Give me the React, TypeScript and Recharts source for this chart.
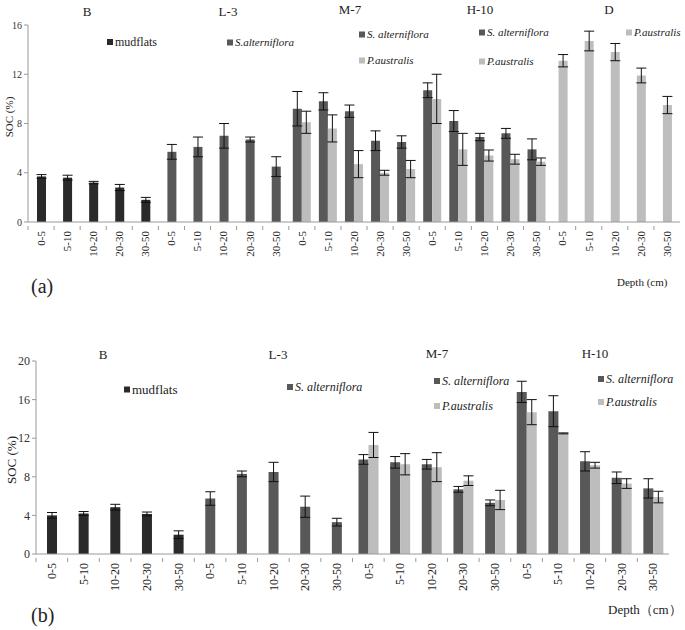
import { BarChart, Bar, XAxis, YAxis, ErrorBar, Cell } from 'recharts'

const depths = ['0-5', '5-10', '10-20', '20-30', '30-50']

// panel (a) SOC (%)
const aB = [3.7, 3.6, 3.2, 2.8, 1.8]
const aBErr = [0.15, 0.2, 0.1, 0.25, 0.2]
const aL3 = [5.7, 6.1, 7.0, 6.7, 4.5]
const aL3Err = [0.6, 0.8, 1.0, 0.2, 0.8]
const aM7S = [9.2, 9.8, 9.0, 6.6, 6.5]
const aM7SErr = [1.4, 0.7, 0.5, 0.8, 0.5]
const aM7P = [8.1, 7.6, 4.7, 4.0, 4.3]
const aM7PErr = [0.9, 1.1, 1.1, 0.2, 0.7]
const aH10S = [10.7, 8.2, 6.9, 7.2, 5.9]
const aH10SErr = [0.6, 0.85, 0.3, 0.4, 0.85]
const aH10P = [10.0, 5.9, 5.4, 5.1, 4.9]
const aH10PErr = [2.0, 1.3, 0.45, 0.4, 0.3]
const aD = [13.1, 14.7, 13.8, 11.9, 9.5]
const aDErr = [0.5, 0.8, 0.7, 0.6, 0.7]

// panel (b) SOC (%)
const bB = [4.0, 4.2, 4.85, 4.15, 2.0]
const bBErr = [0.3, 0.2, 0.3, 0.2, 0.4]
const bL3 = [5.75, 8.3, 8.5, 4.9, 3.3]
const bL3Err = [0.7, 0.3, 1.0, 1.1, 0.4]
const bM7S = [9.8, 9.5, 9.3, 6.7, 5.3]
const bM7SErr = [0.5, 0.6, 0.5, 0.3, 0.3]
const bM7P = [11.3, 9.3, 9.0, 7.6, 5.6]
const bM7PErr = [1.3, 1.1, 1.5, 0.5, 1.0]
const bH10S = [16.8, 14.8, 9.6, 7.9, 6.8]
const bH10SErr = [1.1, 1.6, 1.0, 0.6, 1.0]
const bH10P = [14.7, 12.5, 9.2, 7.3, 5.9]
const bH10PErr = [1.3, 0.05, 0.3, 0.5, 0.6]

const aTicks = [0, 4, 8, 12, 16]
const bTicks = [0, 4, 8, 12, 16, 20]

const MUD = '#2a2a2a'
const SALT = '#585858'
const PHRAG = '#bdbdbd'
const SERIF = "'Liberation Serif', 'Times New Roman', Tinos, 'DejaVu Serif', serif"

type Row = {
  key: string
  depth: string
  single?: number
  singleErr?: number
  fill?: string
  s?: number
  sErr?: number
  p?: number
  pErr?: number
}

const singleRows = (site: string, vals: number[], errs: number[], fill: string): Row[] =>
  depths.map((d, i) => ({ key: site + ' ' + d, depth: d, single: vals[i], singleErr: errs[i], fill }))

const pairRows = (site: string, s: number[], sErr: number[], p: number[], pErr: number[]): Row[] =>
  depths.map((d, i) => ({ key: site + ' ' + d, depth: d, s: s[i], sErr: sErr[i], p: p[i], pErr: pErr[i] }))

const rowsA: Row[] = [
  ...singleRows('B', aB, aBErr, MUD),
  ...singleRows('L-3', aL3, aL3Err, SALT),
  ...pairRows('M-7', aM7S, aM7SErr, aM7P, aM7PErr),
  ...pairRows('H-10', aH10S, aH10SErr, aH10P, aH10PErr),
  ...singleRows('D', aD, aDErr, PHRAG),
]

const rowsB: Row[] = [
  ...singleRows('B', bB, bBErr, MUD),
  ...singleRows('L-3', bL3, bL3Err, SALT),
  ...pairRows('M-7', bM7S, bM7SErr, bM7P, bM7PErr),
  ...pairRows('H-10', bH10S, bH10SErr, bH10P, bH10PErr),
]

// rotated depth label plus a small mark on the category boundary
function makeTick(step: number, fontSize: number) {
  return (props: any) => {
    const { x, y, payload } = props
    const depth = String(payload.value).split(' ').pop()
    const ty = y + 3
    return (
      <g>
        <line x1={x - step / 2} x2={x - step / 2} y1={y - 2} y2={y + 2} stroke="#999" />
        <text
          x={x}
          y={ty}
          transform={`rotate(-90 ${x} ${ty})`}
          textAnchor="end"
          dy={fontSize * 0.35}
          fontSize={fontSize}
          style={{ fontFamily: SERIF }}
          fill="#222"
        >
          {depth}
        </text>
      </g>
    )
  }
}

interface PanelProps {
  rows: Row[]
  width: number
  height: number
  margin: { top: number; right: number; bottom: number; left: number }
  yWidth: number
  yMax: number
  ticks: number[]
  barSize: number
  tickFont: number
  yFont: number
}

function Panel({ rows, width, height, margin, yWidth, yMax, ticks, barSize, tickFont, yFont }: PanelProps) {
  const step = (width - margin.left - margin.right - yWidth) / rows.length
  return (
    <BarChart width={width} height={height} data={rows} margin={margin} barGap={0}>
      <XAxis xAxisId="single" dataKey="key" hide />
      <XAxis
        xAxisId="pair"
        dataKey="key"
        interval={0}
        height={30}
        axisLine={{ stroke: '#999' }}
        tickLine={false}
        tickMargin={0}
        tick={makeTick(step, tickFont)}
      />
      <YAxis
        domain={[0, yMax]}
        ticks={ticks}
        width={yWidth}
        axisLine={{ stroke: '#999' }}
        tickLine={{ stroke: '#999' }}
        tickSize={4}
        tickMargin={2}
        tick={{ fontSize: yFont, fill: '#333', style: { fontFamily: SERIF } }}
      />
      <Bar xAxisId="single" dataKey="single" barSize={barSize} isAnimationActive={false}>
        {rows.map((r) => (
          <Cell key={r.key} fill={r.fill} />
        ))}
        <ErrorBar dataKey="singleErr" width={5} stroke="#111" strokeWidth={1} />
      </Bar>
      <Bar xAxisId="pair" dataKey="s" fill={SALT} barSize={barSize} isAnimationActive={false}>
        <ErrorBar dataKey="sErr" width={5} stroke="#111" strokeWidth={1} />
      </Bar>
      <Bar xAxisId="pair" dataKey="p" fill={PHRAG} barSize={barSize} isAnimationActive={false}>
        <ErrorBar dataKey="pErr" width={5} stroke="#111" strokeWidth={1} />
      </Bar>
    </BarChart>
  )
}

function Txt({ x, y, size, children, center, italic }: any) {
  return (
    <div
      style={{
        position: 'absolute',
        left: x,
        top: y,
        transform: center ? 'translate(-50%, -50%)' : 'translateY(-50%)',
        fontFamily: SERIF,
        fontSize: size,
        fontStyle: italic ? 'italic' : 'normal',
        color: '#222',
        whiteSpace: 'nowrap',
        lineHeight: 1,
      }}
    >
      {children}
    </div>
  )
}

function Key({ x, y, color, label, size, italic = true }: any) {
  return (
    <div
      style={{
        position: 'absolute',
        left: x,
        top: y,
        transform: 'translateY(-50%)',
        display: 'flex',
        alignItems: 'center',
        fontFamily: SERIF,
        fontSize: size,
        color: '#222',
        whiteSpace: 'nowrap',
        lineHeight: 1,
      }}
    >
      <span style={{ display: 'inline-block', width: 6, height: 6, background: color, marginRight: 2 }} />
      <span style={{ fontStyle: italic ? 'italic' : 'normal' }}>{label}</span>
    </div>
  )
}

function YLabel({ x, y, size }: any) {
  return (
    <div
      style={{
        position: 'absolute',
        left: x,
        top: y,
        transform: 'translate(-50%, -50%) rotate(-90deg)',
        fontFamily: SERIF,
        fontSize: size,
        color: '#222',
        whiteSpace: 'nowrap',
        lineHeight: 1,
      }}
    >
      SOC (%)
    </div>
  )
}

export default function App() {
  return (
    <div style={{ position: 'absolute', left: 0, top: 0, width: 685, height: 630, background: '#fff', overflow: 'hidden', fontFamily: SERIF }}>
      <div style={{ position: 'absolute', left: 0, top: 0 }}>
        <Panel
          rows={rowsA}
          width={685}
          height={300}
          margin={{ top: 25, right: 5, bottom: 48, left: 6 }}
          yWidth={22}
          yMax={16}
          ticks={aTicks}
          barSize={9}
          tickFont={11}
          yFont={10}
        />
      </div>
      <div style={{ position: 'absolute', left: 0, top: 330 }}>
        <Panel
          rows={rowsB}
          width={685}
          height={300}
          margin={{ top: 31, right: 16, bottom: 46, left: 10 }}
          yWidth={26}
          yMax={20}
          ticks={bTicks}
          barSize={10}
          tickFont={12}
          yFont={12}
        />
      </div>

      {/* panel (a) labels */}
      <Txt x={87} y={11} size={13} center>B</Txt>
      <Txt x={228} y={11} size={13} center>L-3</Txt>
      <Txt x={350} y={9} size={13} center>M-7</Txt>
      <Txt x={480} y={9} size={13} center>H-10</Txt>
      <Txt x={609} y={9} size={13} center>D</Txt>
      <Key x={107} y={42} color={MUD} label="mudflats" size={12} italic={false} />
      <Key x={227} y={42} color={SALT} label="S.alterniflora" size={11} />
      <Key x={359} y={34} color={SALT} label="S. alterniflora" size={11} />
      <Key x={359} y={60} color={PHRAG} label="P.australis" size={11} />
      <Key x={479} y={32} color={SALT} label="S. alterniflora" size={11} />
      <Key x={479} y={61} color={PHRAG} label="P.australis" size={11} />
      <Key x={626} y={32} color={PHRAG} label="P.australis" size={11} />
      <YLabel x={9} y={117} size={11} />
      <Txt x={617} y={282} size={11}>Depth (cm)</Txt>
      <Txt x={31} y={286} size={20}>(a)</Txt>

      {/* panel (b) labels */}
      <Txt x={103} y={354} size={13} center>B</Txt>
      <Txt x={278} y={354} size={13} center>L-3</Txt>
      <Txt x={437} y={353} size={13} center>M-7</Txt>
      <Txt x={595} y={353} size={13} center>H-10</Txt>
      <Key x={124} y={389} color={MUD} label="mudflats" size={13} italic={false} />
      <Key x={287} y={387} color={SALT} label="S. alterniflora" size={12} />
      <Key x={434} y={381} color={SALT} label="S. alterniflora" size={12} />
      <Key x={434} y={406} color={PHRAG} label="P.australis" size={12} />
      <Key x={598} y={379} color={SALT} label="S. alterniflora" size={12} />
      <Key x={598} y={402} color={PHRAG} label="P.australis" size={12} />
      <YLabel x={11} y={460} size={13} />
      <Txt x={608} y={609} size={13}>Depth（cm）</Txt>
      <Txt x={31} y={615} size={20}>(b)</Txt>
    </div>
  )
}
